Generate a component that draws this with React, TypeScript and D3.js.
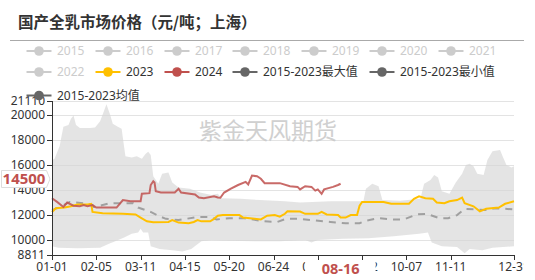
import React from "react";
import * as d3 from "d3";

const categories: string[] = d3.timeDay
  .range(new Date(2024, 0, 1), new Date(2025, 0, 1))
  .map((d) => d3.timeFormat("%m-%d")(d));

const xTickLabels = ["01-01", "02-05", "03-11", "04-15", "05-20", "06-24", "07-29", "09-02", "10-07", "11-11", "12-31"];
const yTicks = [8811, 10000, 12000, 14000, 16000, 18000, 20000, 21110];

const maxDates = ["01-01","01-03","01-07","01-10","01-14","01-16","01-18","01-20","01-23","01-31","02-04","02-08","02-11","02-13","02-16","02-18","02-22","02-25","02-28","03-04","03-08","03-12","03-15","03-17","03-19","03-21","03-25","03-28","04-02","04-05","04-10","04-19","04-27","05-06","05-11","05-14","05-29","06-13","07-03","07-15","08-08","09-03","09-05","09-10","09-15","09-18","10-02","10-18","10-21","10-26","10-29","11-01","11-04","11-10","11-15","11-20","11-23","11-26","11-29","12-02","12-07","12-10","12-14","12-20","12-22","12-25","12-29","12-31"];
const maxValues = [16400,16500,17500,19060,19200,19700,19950,19200,18950,18950,19000,19500,20300,20850,20000,19300,19060,18900,16700,16600,16700,16500,16900,17060,16800,15100,14500,15300,15400,14600,14200,14100,13800,13600,13700,13350,13300,13200,13100,13000,13100,13100,14100,14500,14300,13200,13150,13300,14500,14800,15200,15000,13900,13700,14600,15300,16000,16100,15900,15300,15200,16400,17100,17200,16700,16000,15800,15900];

const minDates = ["01-01","01-06","01-21","02-08","02-15","02-20","02-27","03-04","03-09","03-11","03-13","03-17","03-19","03-26","04-05","04-13","04-20","04-28","05-06","05-20","06-09","06-29","07-19","07-24","07-29","08-18","09-07","09-27","10-17","10-24","10-27","11-04","11-16","11-22","11-26","12-06","12-14","12-31"];
const minValues = [9500,9400,9350,9400,9700,9900,10200,10500,10600,10900,10600,10600,9500,9300,9200,9100,9300,9900,10000,9950,9900,9900,10000,9800,10000,10100,10150,10300,10500,10600,9800,9500,9450,8950,9300,9200,9400,9500];

const meanDates = ["01-01","01-06","01-15","01-26","02-02","02-03","02-08","02-16","03-05","03-09","03-19","03-26","03-31","04-10","04-25","05-05","05-10","05-20","06-01","06-17","06-27","07-04","07-15","07-24","08-08","08-20","08-31","09-05","09-15","09-27","10-05","10-15","10-23","11-02","11-09","11-16","11-22","12-01","12-08","12-16","12-24","12-31"];
const meanValues = [12400,12600,13050,12950,12800,12650,12750,12950,12950,12600,12250,11900,11700,11600,11850,11850,11650,11750,11750,11500,11450,11700,11700,11600,11450,11350,11350,11550,11750,11650,11650,12050,12100,11750,11750,12000,12500,12450,12400,12550,12500,12450];

const y2023Dates = ["01-01","01-04","01-11","01-16","01-21","01-29","02-01","02-02","02-10","02-26","03-07","03-11","03-16","03-21","04-02","04-05","04-10","04-18","04-22","04-25","04-28","05-05","05-08","05-11","05-15","05-28","05-31","06-09","06-14","06-19","06-25","06-29","07-03","07-05","07-15","07-19","07-29","08-01","08-05","08-14","08-16","08-20","08-24","08-29","08-31","09-02","09-19","09-25","10-09","10-13","10-17","10-22","10-28","10-31","11-06","11-10","11-16","11-20","11-22","11-29","12-04","12-09","12-19","12-24","12-31"];
const y2023Values = [12250,12540,12600,12700,12850,12850,12900,12250,12150,12100,12050,11800,11500,11420,11450,11600,11400,11350,11450,11600,11500,11500,11700,11950,12000,12000,11800,11700,11650,11950,12000,11870,12100,12300,12280,12100,12100,12250,12050,12000,11800,11800,12000,12000,12750,13050,13050,12900,12900,13300,13500,13350,13300,13000,12950,13100,13200,13400,12950,12700,12300,12500,12600,12900,13100];

const y2024Dates = ["01-01","01-05","01-10","01-13","01-18","01-23","01-26","01-29","02-02","02-05","02-21","02-24","02-26","03-03","03-11","03-12","03-18","03-19","03-21","03-22","03-23","03-27","04-07","04-10","04-12","04-23","04-26","04-30","05-08","05-11","05-13","05-16","05-21","05-27","06-02","06-04","06-07","06-11","06-14","06-17","06-29","07-07","07-13","07-15","07-19","07-24","07-27","07-29","08-01","08-03","08-10","08-14","08-16"];
const y2024Values = [13340,13050,12650,13000,12750,12700,12800,12700,12800,12600,12600,12950,13200,13100,13100,13700,13750,14400,14700,14600,13900,13800,13800,14100,13800,13650,13400,13350,13500,13400,13380,13800,14100,14400,14650,14450,15150,15100,14900,14550,14550,14300,14250,14050,14300,14250,13950,14050,13700,14050,14250,14400,14500];

const legendRows: { name: string; color: string; active: boolean; row: number; x: number }[] = [
  { name: "2015", color: "#ccc", active: false, row: 0, x: 57 },
  { name: "2016", color: "#ccc", active: false, row: 0, x: 126 },
  { name: "2017", color: "#ccc", active: false, row: 0, x: 195 },
  { name: "2018", color: "#ccc", active: false, row: 0, x: 263 },
  { name: "2019", color: "#ccc", active: false, row: 0, x: 332 },
  { name: "2020", color: "#ccc", active: false, row: 0, x: 400 },
  { name: "2021", color: "#ccc", active: false, row: 0, x: 469 },
  { name: "2022", color: "#ccc", active: false, row: 1, x: 57 },
  { name: "2023", color: "#ffc000", active: true, row: 1, x: 126 },
  { name: "2024", color: "#c0504d", active: true, row: 1, x: 195 },
  { name: "2015-2023最大值", color: "#666", active: true, row: 1, x: 263 },
  { name: "2015-2023最小值", color: "#666", active: true, row: 1, x: 400 },
  { name: "2015-2023均值", color: "#666", active: true, row: 2, x: 57 },
];
const legendRowY = [51, 72, 95.5];

const FONT = "'Noto Sans', 'Noto Sans CJK SC', sans-serif";

export default function App() {
  const x = d3.scalePoint<string>().domain(categories).range([52, 514]);
  const y = d3.scaleLinear().domain([8811, 21110]).range([255, 101]);

  const pts = (dates: string[], vals: number[]) =>
    dates.map((d, i) => [x(d) as number, y(vals[i])] as [number, number]);

  const line = d3.line<[number, number]>().x((p) => p[0]).y((p) => p[1]);
  const bandPts = [...pts(maxDates, maxValues), ...pts(minDates, minValues).reverse()];
  const bandPath = line(bandPts) + "Z";

  const lastX = x("08-16") as number;

  return (
    <svg width={524} height={280} style={{ position: "absolute", left: 0, top: 0 }} fontFamily={FONT}>
      <rect x={0} y={0} width={535} height={280} fill="#fff" />
      <text x={18} y={28} fontSize={15.5} fontWeight="bold" fill="#333" fontFamily="'Noto Sans CJK SC', sans-serif">
        国产全乳市场价格（元/吨；上海）
      </text>
      <line x1={10} x2={525} y1={40.5} y2={40.5} stroke="#aaa" strokeWidth={1} />

      {yTicks.slice(1).map((t) => (
        <line key={t} x1={52} x2={514} y1={Math.round(y(t)) + 0.5} y2={Math.round(y(t)) + 0.5} stroke="#e3e3e3" />
      ))}

      <text x={268} y={139} textAnchor="middle" fontSize={23} fill="#c8c8c8" opacity={0.85} fontFamily="'Noto Sans CJK SC', sans-serif">
        紫金天风期货
      </text>

      <path d={bandPath} fill="#d6d6d6" opacity={0.65} />

      <path d={line(pts(meanDates, meanValues)) as string} fill="none" stroke="#a0a0a0" strokeWidth={2} strokeDasharray="7,6" />
      <path d={line(pts(y2023Dates, y2023Values)) as string} fill="none" stroke="#ffc000" strokeWidth={2} />
      <path d={line(pts(y2024Dates, y2024Values)) as string} fill="none" stroke="#c0504d" strokeWidth={2} opacity={0.85} />

      {/* y axis */}
      <line x1={52.5} x2={52.5} y1={y(21110)} y2={255} stroke="#333" />
      {yTicks.map((t) => (
        <g key={t}>
          <line x1={47} x2={52} y1={Math.round(y(t)) + 0.5} y2={Math.round(y(t)) + 0.5} stroke="#333" />
          <text x={45} y={y(t)} dy="0.35em" textAnchor="end" fontSize={12} fill="#333">
            {t}
          </text>
        </g>
      ))}

      {/* x axis */}
      <line x1={52} x2={514} y1={255.5} y2={255.5} stroke="#333" />
      {xTickLabels.map((c) => (
        <g key={c}>
          <line x1={Math.round(x(c) as number) + 0.5} x2={Math.round(x(c) as number) + 0.5} y1={255} y2={260} stroke="#333" />
          <text x={x(c) as number} y={271} textAnchor="middle" fontSize={12} fill="#333">
            {c}
          </text>
        </g>
      ))}

      {/* highlighted current date label */}
      <rect x={lastX - 35.5} y={261} width={70.5} height={19} fill="#fff" />
      <text x={lastX} y={274} textAnchor="middle" fontSize={14.5} fontWeight="bold" fill="#c0504d">
        08-16
      </text>

      {/* current value label */}
      <path d="M1.5,170.5 L46.5,170.5 L50,179 L46.5,187.5 L1.5,187.5 Z" fill="#fff" stroke="#ddd" />
      <text x={24} y={179} dy="0.36em" textAnchor="middle" fontSize={15} fontWeight="bold" fill="#c0504d">
        14500
      </text>

      {/* legend */}
      {legendRows.map((l) => {
        const cy = legendRowY[l.row];
        const cx = l.x - 18;
        return (
          <g key={l.name}>
            <line x1={cx - 12.5} x2={cx + 12.5} y1={cy} y2={cy} stroke={l.color} strokeWidth={2} />
            <circle cx={cx} cy={cy} r={4.8} fill={l.color} />
            <text x={l.x} y={cy} dy="0.35em" fontSize={12} fill={l.active ? "#333" : "#ccc"}>
              {l.name}
            </text>
          </g>
        );
      })}
    </svg>
  );
}
